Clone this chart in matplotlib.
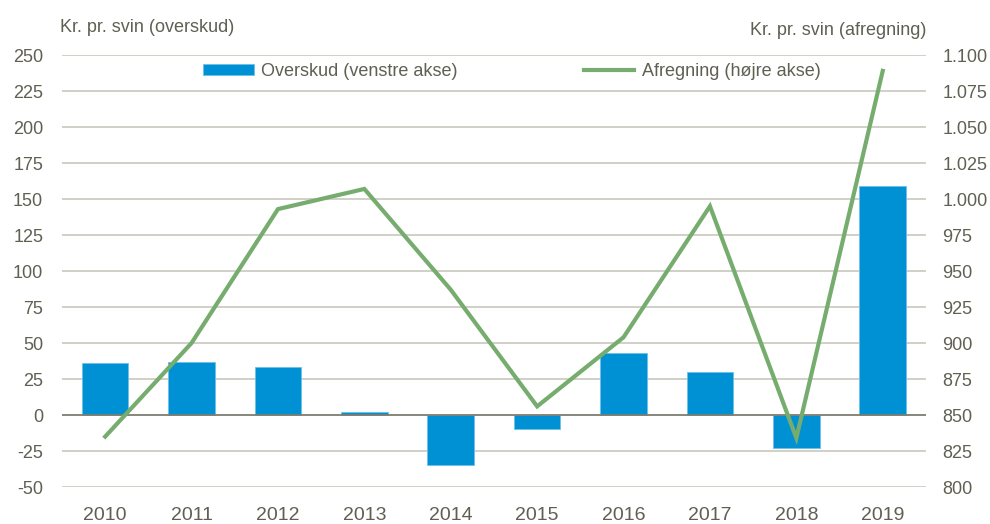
import matplotlib.pyplot as plt
import matplotlib.ticker as mticker
import numpy as np

plt.rcParams['font.family'] = ['Liberation Sans', 'DejaVu Sans']
plt.rcParams['axes.unicode_minus'] = False

years = ['2010', '2011', '2012', '2013', '2014', '2015', '2016', '2017', '2018', '2019']
overskud = [36, 37, 33, 2, -35, -10, 43, 30, -23, 159]
afregning = [835, 900, 993, 1007, 937, 856, 904, 995, 834, 1089]

text_col = '#5f5f52'
bar_col = '#0090d4'
line_col = '#76ad6e'

fig = plt.figure(figsize=(9.9, 5.24), dpi=100)
ax = fig.add_axes([0.0626, 0.0706, 0.8727, 0.8244])
ax2 = ax.twinx()

x = np.arange(len(years))
ax.bar(x, overskud, width=0.54, color=bar_col, edgecolor='#6cc0ea', linewidth=0.6,
       label='Overskud (venstre akse)', zorder=3)
ax2.plot(x, afregning, color=line_col, linewidth=3.0, label='Afregning (højre akse)',
         solid_joinstyle='miter', zorder=4)

ax.set_xlim(-0.5, 9.5)
ax.set_ylim(-50, 250)
ax.set_yticks(np.arange(-50, 251, 25))
ax2.set_ylim(800, 1100)
ax2.set_yticks(np.arange(800, 1101, 25))
ax2.yaxis.set_major_formatter(mticker.FuncFormatter(
    lambda v, p: f'{int(v):,}'.replace(',', '.')))

for y in np.arange(-50, 251, 25):
    if y == 0:
        ax.axhline(0, color='#7d7d70', linewidth=1.3, zorder=4)
    else:
        ax.axhline(y, color='#c4c4b8', linewidth=1.1, zorder=1)

ax.set_xticks(x)
ax.set_xticklabels(years)
for a in (ax, ax2):
    for s in a.spines.values():
        s.set_visible(False)
    a.tick_params(length=0, labelsize=13, colors=text_col)
ax.tick_params(axis='y', pad=13.5)
ax2.tick_params(axis='y', pad=12)
ax.tick_params(axis='x', pad=14.5, labelsize=14)

fig.text(0.061, 0.948, 'Kr. pr. svin (overskud)', fontsize=13, color=text_col,
         ha='left', va='center')
fig.text(0.936, 0.942, 'Kr. pr. svin (afregning)', fontsize=13, color=text_col,
         ha='right', va='center')

h1, l1 = ax.get_legend_handles_labels()
h2, l2 = ax2.get_legend_handles_labels()
leg = ax2.legend(h1 + h2, l1 + l2, loc='center', bbox_to_anchor=(0.517, 0.864),
                 bbox_transform=fig.transFigure, ncol=2, frameon=False, fontsize=13,
                 handlelength=2.8, handleheight=0.5, columnspacing=7.0, handletextpad=0.4)
for t in leg.get_texts():
    t.set_color(text_col)

fig.savefig('out.png', dpi=100)
